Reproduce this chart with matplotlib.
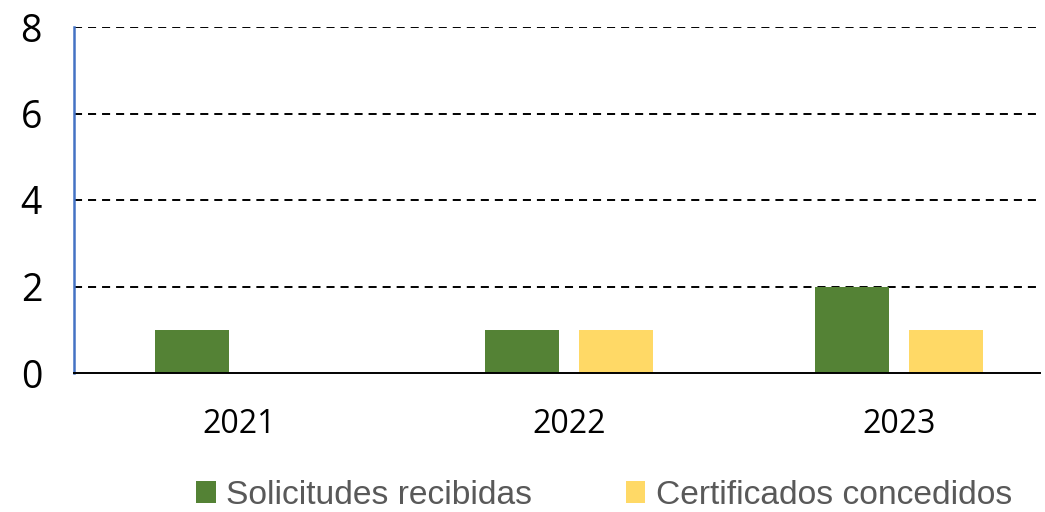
import matplotlib
matplotlib.use("Agg")
import matplotlib.pyplot as plt
import numpy as np

years = ["2021", "2022", "2023"]
solicitudes = [1, 1, 2]
certificados = [0, 1, 1]
series_names = ["Solicitudes recibidas", "Certificados concedidos"]
colors = ["#548235", "#FFD966"]
yticks = [0, 2, 4, 6, 8]

plt.rcParams["font.family"] = ["Liberation Sans Narrow", "Liberation Sans", "DejaVu Sans"]
plt.rcParams["lines.scale_dashes"] = False

fig = plt.figure(figsize=(10.45, 5.12), dpi=100)
W, H = 1045, 512
left, right, top, bottom = 74, 1040, 27, 373
ax = fig.add_axes([left / W, (H - bottom) / H, (right - left) / W, (bottom - top) / H])

x = np.arange(len(years))
bw = 0.224
off = 0.1424
ax.bar(x - off, solicitudes, bw, color=colors[0], label=series_names[0], zorder=3)
ax.bar(x + off, certificados, bw, color=colors[1], label=series_names[1], zorder=3)

ax.set_xlim(-0.5, -0.5 + (right - left) / 330)
ax.set_ylim(0, 8)
ax.set_yticks(yticks)
ax.set_xticks(x)
ax.set_xticklabels(years)

for y in yticks[1:]:
    ax.axhline(y, color="black", lw=1.4, linestyle=(0, (5.8, 4.3)), zorder=2)

for s in ["top", "right"]:
    ax.spines[s].set_visible(False)
ax.spines["left"].set_color("#4472C4")
ax.spines["left"].set_linewidth(1.8)
ax.spines["bottom"].set_color("black")
ax.spines["bottom"].set_linewidth(1.4)
ax.spines["bottom"].set_zorder(4)

ax.tick_params(axis="y", length=0, pad=23, labelsize=27, labelcolor="black")
ax.tick_params(axis="x", length=0, pad=25, labelsize=23, labelcolor="black")
for lab in ax.get_yticklabels() + ax.get_xticklabels():
    lab.set_family(["Open Sans", "DejaVu Sans"])

handles, labels = ax.get_legend_handles_labels()
leg = fig.legend(handles, labels, loc="center", bbox_to_anchor=(0.578, 0.032), ncol=2,
                 frameon=False, fontsize=24.2, handlelength=0.58, handleheight=0.63,
                 handletextpad=0.3, columnspacing=2.8, labelcolor="#595959",
                 borderpad=0.2)

fig.savefig("out.png", dpi=100)
